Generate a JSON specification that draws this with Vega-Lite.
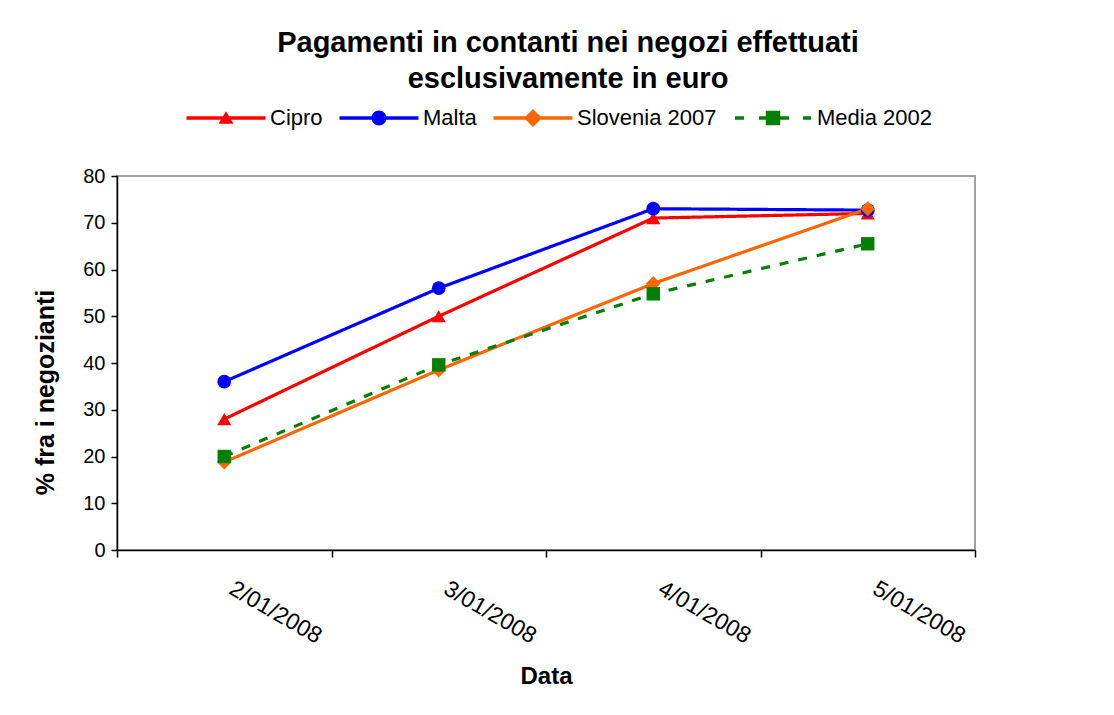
{
  "$schema": "https://vega.github.io/schema/vega-lite/v6.json",
  "autosize": {"type": "none"},
  "width": 858,
  "height": 374,
  "padding": {"left": 117, "top": 176, "right": 139, "bottom": 165},
  "background": "white",
  "title": {
    "text": ["Pagamenti in contanti nei negozi effettuati", "esclusivamente in euro"],
    "font": "Liberation Sans",
    "fontSize": 29,
    "fontWeight": "bold",
    "color": "black",
    "lineHeight": 36,
    "anchor": "middle",
    "frame": "group",
    "dx": 22,
    "offset": 13
  },
  "config": {
    "font": "Liberation Sans",
    "view": {"stroke": "#a0a0a0", "strokeWidth": 2},
    "axis": {"grid": false, "domainColor": "black", "tickColor": "black", "labelColor": "black", "titleColor": "black", "labelFont": "Liberation Sans", "titleFont": "Liberation Sans", "domainWidth": 1.5, "tickWidth": 1.5}
  },
  "data": {
    "values": [
      {"Data": "2/01/2008", "Serie": "Cipro", "Valore": 28},
      {"Data": "3/01/2008", "Serie": "Cipro", "Valore": 50},
      {"Data": "4/01/2008", "Serie": "Cipro", "Valore": 71},
      {"Data": "5/01/2008", "Serie": "Cipro", "Valore": 72},
      {"Data": "2/01/2008", "Serie": "Malta", "Valore": 36},
      {"Data": "3/01/2008", "Serie": "Malta", "Valore": 56},
      {"Data": "4/01/2008", "Serie": "Malta", "Valore": 73},
      {"Data": "5/01/2008", "Serie": "Malta", "Valore": 72.7},
      {"Data": "2/01/2008", "Serie": "Slovenia 2007", "Valore": 18.8},
      {"Data": "3/01/2008", "Serie": "Slovenia 2007", "Valore": 38.5},
      {"Data": "4/01/2008", "Serie": "Slovenia 2007", "Valore": 57},
      {"Data": "5/01/2008", "Serie": "Slovenia 2007", "Valore": 73},
      {"Data": "2/01/2008", "Serie": "Media 2002", "Valore": 20},
      {"Data": "3/01/2008", "Serie": "Media 2002", "Valore": 39.6},
      {"Data": "4/01/2008", "Serie": "Media 2002", "Valore": 54.8},
      {"Data": "5/01/2008", "Serie": "Media 2002", "Valore": 65.5}
    ]
  },
  "encoding": {
    "x": {
      "field": "Data", "type": "nominal", "bandPosition": 0.5,
      "sort": ["2/01/2008", "3/01/2008", "4/01/2008", "5/01/2008"],
      "scale": {"type": "band", "paddingInner": 0, "paddingOuter": 0},
      "axis": {"title": "Data", "titleFontSize": 24, "titleFontWeight": "bold", "titleY": 126, "titleBaseline": "middle",
        "labelAngle": 30, "labelAlign": "left", "labelBaseline": "top", "labelFontSize": 23,
        "labelOffset": 12, "labelPadding": 20, "tickSize": 7, "tickBand": "extent"}
    },
    "y": {
      "field": "Valore", "type": "quantitative",
      "scale": {"domain": [0, 80], "nice": false},
      "axis": {"title": "% fra i negozianti", "titleFontSize": 25, "titleFontWeight": "bold",
        "values": [0, 10, 20, 30, 40, 50, 60, 70, 80], "labelFontSize": 20, "tickSize": 6, "labelPadding": 6,
        "titleX": -72, "titleY": 216, "titleAlign": "center", "titleBaseline": "middle", "titleAngle": -90}
    },
    "color": {
      "field": "Serie", "type": "nominal",
      "sort": ["Cipro", "Malta", "Slovenia 2007", "Media 2002"],
      "scale": {"domain": ["Cipro", "Malta", "Slovenia 2007", "Media 2002"], "range": ["#FF0000", "#0000FF", "#FF6600", "#008000"]},
      "legend": {
        "title": null, "orient": "none", "direction": "horizontal", "columns": 4,
        "legendX": 68, "legendY": -69,
        "labelFontSize": 22, "labelColor": "black", "labelFont": "Liberation Sans",
        "symbolSize": 400, "symbolOffset": 30, "labelOffset": 33, "columnPadding": 15,
        "symbolStrokeWidth": 0,
        "encode": {
          "symbols": {
            "update": {
              "shape": {"signal": "datum.value === 'Cipro' ? 'M-3.95,-0.17L3.95,-0.17L3.95,0.17L-3.95,0.17ZM0,-0.68L0.75,0.58L-0.75,0.58Z' : datum.value === 'Malta' ? 'M-3.95,-0.17L3.95,-0.17L3.95,0.17L-3.95,0.17ZM-0.75,0A0.75,0.75 0 1,1 0.75,0A0.75,0.75 0 1,1 -0.75,0Z' : datum.value === 'Slovenia 2007' ? 'M-3.95,-0.17L3.95,-0.17L3.95,0.17L-3.95,0.17ZM0,-0.9L0.9,0L0,0.9L-0.9,0Z' : 'M-3.8,-0.17L-2.9,-0.17L-2.9,0.17L-3.8,0.17ZM-1.4,-0.17L-0.6,-0.17L-0.6,0.17L-1.4,0.17ZM-0.72,-0.72L0.72,-0.72L0.72,0.72L-0.72,0.72ZM0.6,-0.17L1.6,-0.17L1.6,0.17L0.6,0.17ZM3.0,-0.17L3.8,-0.17L3.8,0.17L3.0,0.17Z'"},
              "fill": {"scale": "color", "field": "value"},
              "fillOpacity": {"value": 1},
              "strokeWidth": {"value": 0}
            }
          }
        }
      }
    }
  },
  "layer": [
    {
      "mark": {"type": "line", "strokeWidth": 3.2},
      "encoding": {
        "strokeDash": {
          "field": "Serie", "type": "nominal",
          "scale": {"domain": ["Cipro", "Malta", "Slovenia 2007", "Media 2002"], "range": [[1, 0], [1, 0], [1, 0], [9, 10]]},
          "legend": null
        }
      }
    },
    {
      "transform": [{"filter": "datum.Serie === 'Cipro'"}],
      "mark": {"type": "point", "filled": true, "opacity": 1, "size": 200, "shape": "triangle-up"}
    },
    {
      "transform": [{"filter": "datum.Serie === 'Malta'"}],
      "mark": {"type": "point", "filled": true, "opacity": 1, "size": 190, "shape": "circle"}
    },
    {
      "transform": [{"filter": "datum.Serie === 'Slovenia 2007'"}],
      "mark": {"type": "point", "filled": true, "opacity": 1, "size": 220, "shape": "diamond"}
    },
    {
      "transform": [{"filter": "datum.Serie === 'Media 2002'"}],
      "mark": {"type": "point", "filled": true, "opacity": 1, "size": 180, "shape": "square"}
    }
  ]
}
